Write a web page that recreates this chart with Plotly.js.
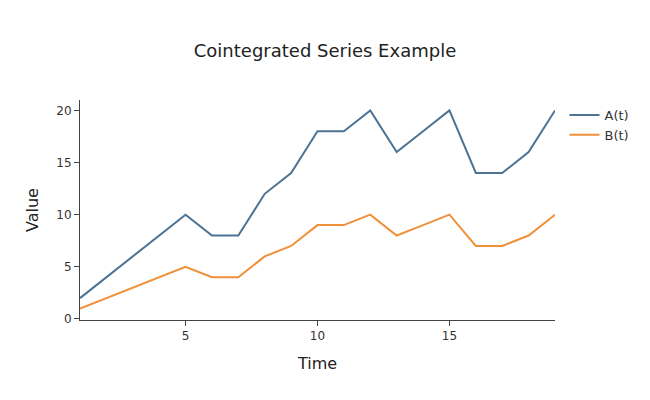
<!DOCTYPE html>
<html>
<head>
<script src="https://cdn.plot.ly/plotly-3.0.1.min.js"></script>
<style>body{margin:0}</style>
</head>
<body>
<div id="chart" style="width:650px;height:400px"></div>
<script>
const time = [1, 2, 3, 4, 5, 6, 7, 8, 9, 10, 11, 12, 13, 14, 15, 16, 17, 18, 19];
const seriesA = [2, 4, 6, 8, 10, 8, 8, 12, 14, 18, 18, 20, 16, 18, 20, 14, 14, 16, 20];
const seriesB = [1, 2, 3, 4, 5, 4, 4, 6, 7, 9, 9, 10, 8, 9, 10, 7, 7, 8, 10];

const traces = [
  { x: time, y: seriesA, type: 'scatter', mode: 'lines', name: 'A(t)',
    line: { color: '#4c7393', width: 2 } },
  { x: time, y: seriesB, type: 'scatter', mode: 'lines', name: 'B(t)',
    line: { color: '#f0913a', width: 2 } }
];

const layout = {
  title: { text: 'Cointegrated Series Example', x: 0.5, y: 0.89, font: { size: 18, color: '#222' } },
  font: { family: 'DejaVu Sans, sans-serif', color: '#333' },
  paper_bgcolor: '#fff',
  plot_bgcolor: '#fff',
  margin: { l: 80, r: 95, t: 100, b: 80 },
  xaxis: {
    title: { text: 'Time', font: { size: 16, color: '#222' }, standoff: 15 },
    range: [1, 19], showgrid: false, zeroline: false,
    showline: true, linecolor: '#444', ticks: 'outside', ticklen: 5, tickcolor: '#444',
    dtick: 5, tick0: 0, tickfont: { size: 12 }
  },
  yaxis: {
    title: { text: 'Value', font: { size: 16, color: '#222' } },
    range: [-0.1, 21], showgrid: false, zeroline: false,
    showline: true, linecolor: '#444', ticks: 'outside', ticklen: 5, tickcolor: '#444',
    dtick: 5, tickfont: { size: 12 }
  },
  legend: { x: 1.02, y: 1, font: { size: 13 } }
};

Plotly.newPlot('chart', traces, layout, { displayModeBar: false });
</script>
</body>
</html>
